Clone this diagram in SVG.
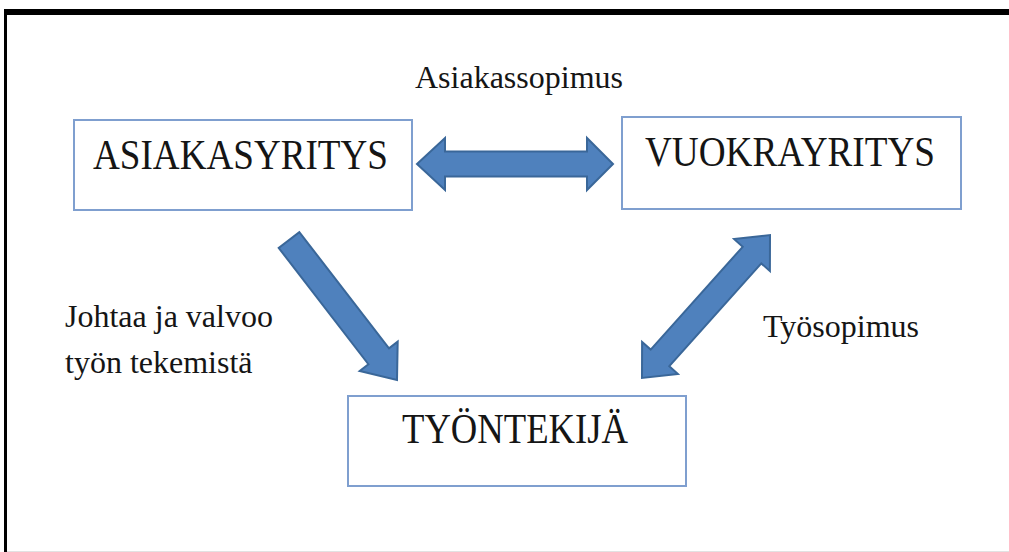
<svg xmlns="http://www.w3.org/2000/svg" width="1009" height="552" viewBox="0 0 1009 552">
  <style>
    .box { fill: #ffffff; stroke: #7f9fcf; stroke-width: 2; }
    .lbl { font-family: "Liberation Serif", "Times New Roman", serif; fill: #151515; }
    .big { font-size: 42px; }
    .small { font-size: 32px; }
    .arrow { fill: #4f81bd; stroke: #3a6799; stroke-width: 2; stroke-linejoin: miter; }
  </style>
  <rect x="0" y="0" width="1009" height="552" fill="#ffffff"/>
  <g id="frame">
    <rect x="4" y="9" width="1005" height="6" fill="#000000"/>
    <rect x="4" y="9" width="3" height="543" fill="#000000"/>
    <line x1="7" y1="551.5" x2="1009" y2="551.5" stroke="#e2e2e2" stroke-width="1"/>
  </g>
  <g id="connectors">
    <polygon class="arrow" points="417,164 445,138 445,151.5 587,151.5 587,138 613,164 587,190 587,176.5 445,176.5 445,190"/>
    <polygon class="arrow" points="299.3,232.1 389.0,348.3 397.7,341.6 397,380 359.7,370.9 368.4,364.2 278.7,247.9"/>
    <polygon class="arrow" points="770,235 769.9,271.1 761.3,263.4 669.3,366.2 677.9,373.9 642,378 642.1,341.9 650.7,349.6 742.7,246.8 734.1,239.1"/>
  </g>
  <g id="asiakasyritys">
    <rect class="box" x="74" y="120" width="338" height="90"/>
    <text class="lbl big" x="93" y="169" textLength="295" lengthAdjust="spacingAndGlyphs">ASIAKASYRITYS</text>
  </g>
  <g id="vuokrayritys">
    <rect class="box" x="622" y="117" width="339" height="92"/>
    <text class="lbl big" x="645" y="166" textLength="290" lengthAdjust="spacingAndGlyphs">VUOKRAYRITYS</text>
  </g>
  <g id="tyontekija">
    <rect class="box" x="348" y="396" width="338" height="90"/>
    <text class="lbl big" x="402" y="443" textLength="226" lengthAdjust="spacingAndGlyphs">TYÖNTEKIJÄ</text>
  </g>
  <g id="labels">
    <text class="lbl small" x="415" y="88">Asiakassopimus</text>
    <text class="lbl small" x="65" y="327">Johtaa ja valvoo</text>
    <text class="lbl small" x="65" y="373">työn tekemistä</text>
    <text class="lbl small" x="763" y="337">Työsopimus</text>
  </g>
</svg>
